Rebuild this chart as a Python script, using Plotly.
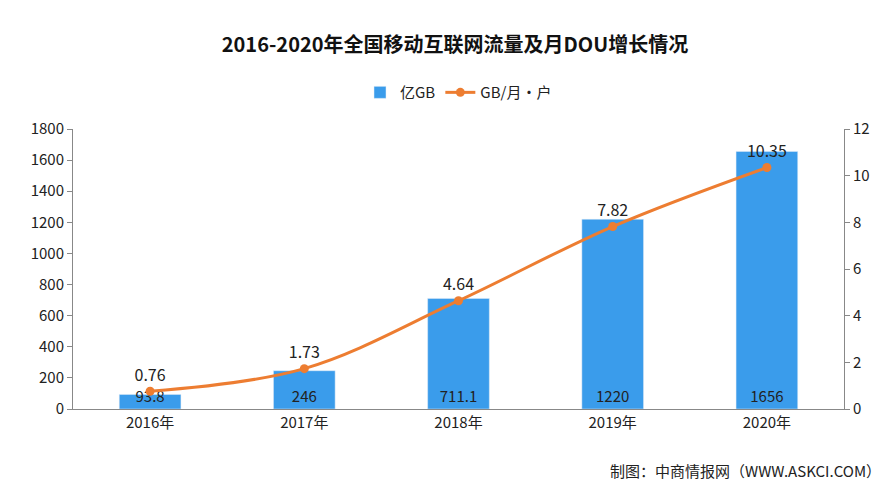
import plotly.graph_objects as go

years = ["2016年", "2017年", "2018年", "2019年", "2020年"]
traffic = [93.8, 246, 711.1, 1220, 1656]
traffic_labels = ["93.8", "246", "711.1", "1220", "1656"]
dou = [0.76, 1.73, 4.64, 7.82, 10.35]
dou_labels = ["0.76", "1.73", "4.64", "7.82", "10.35"]

F = "Noto Sans CJK SC"
fig = go.Figure()
fig.add_bar(x=years, y=traffic, name="亿GB", marker_color="#3A9CEB", width=0.4,
            text=traffic_labels, textposition="inside", insidetextanchor="start",
            textfont=dict(size=15, color="#222"), constraintext="none")
fig.add_scatter(x=years, y=dou, name="GB/月・户", yaxis="y2", mode="lines+markers+text",
                line=dict(color="#ED7D31", width=3, shape="spline"),
                marker=dict(size=9, color="#ED7D31"),
                text=dou_labels, textposition="top center", textfont=dict(size=16, color="#222"))
fig.update_layout(
    width=894, height=500, paper_bgcolor="white", plot_bgcolor="white",
    font=dict(family=F, size=15, color="#222"),
    title=dict(text="<b>2016-2020年全国移动互联网流量及月DOU增长情况</b>", x=0.5, y=0.94,
               xanchor="center", font=dict(size=20, color="#111")),
    legend=dict(orientation="h", x=0.5, xanchor="center", y=1.13, yanchor="middle",
                font=dict(size=15)),
    margin=dict(l=65, r=58, t=121, b=99),
    bargap=0.6,
    xaxis=dict(showline=True, linecolor="#888", ticks="", tickfont=dict(size=15)),
    yaxis=dict(range=[0, 1800], dtick=200, showgrid=False, showline=True, linecolor="#888",
               ticks="outside", tickcolor="#888", tickfont=dict(size=15)),
    yaxis2=dict(range=[0, 12], dtick=2, overlaying="y", side="right", showgrid=False,
                showline=True, linecolor="#888", ticks="outside", tickcolor="#888",
                tickfont=dict(size=15)),
    annotations=[dict(text="制图：中商情报网（WWW.ASKCI.COM）", xref="paper", yref="paper",
                      x=1.05, y=-0.22, xanchor="right", yanchor="middle", showarrow=False,
                      font=dict(size=15, color="#222"))],
)
fig.write_html("out.html")
